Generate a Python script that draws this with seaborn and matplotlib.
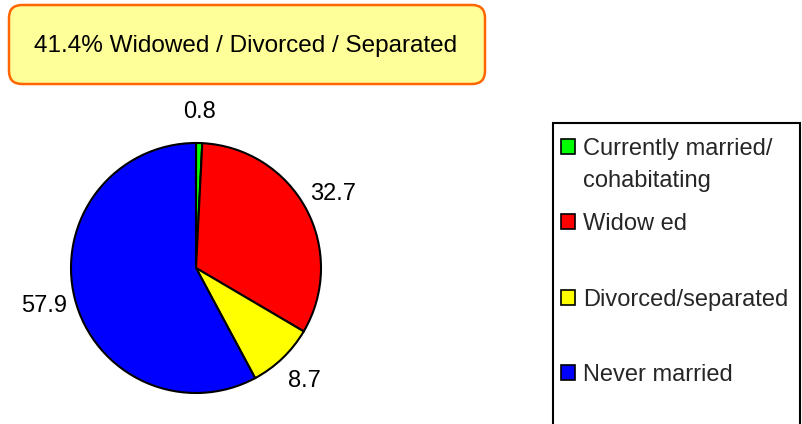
import matplotlib
matplotlib.use("Agg")
import matplotlib.pyplot as plt
import seaborn as sns
from matplotlib.patches import FancyBboxPatch, Rectangle, Patch
from matplotlib.legend_handler import HandlerPatch

# data
categories = ["Currently married/\ncohabitating", "Widow ed", "Divorced/separated", "Never married"]
values = [0.8, 32.7, 8.7, 57.9]
colors = ["#00FF00", "#FF0000", "#FFFF00", "#0000FF"]
title = "41.4% Widowed / Divorced / Separated"

sns.set_style("white")
plt.rcParams["font.family"] = ["Liberation Sans", "DejaVu Sans"]

W, H = 803, 424
fig = plt.figure(figsize=(W / 100, H / 100), dpi=100)

# pie: centre ~ (196, 268) px, radius ~125 px
cx, cy, r = 196, 268, 125
ax = fig.add_axes([(cx - r) / W, (H - cy - r) / H, 2 * r / W, 2 * r / H])
wedges, texts = ax.pie(values, labels=[f"{v:.1f}" for v in values], colors=colors,
                       startangle=90, counterclock=False, labeldistance=1.25,
                       wedgeprops=dict(edgecolor="black", linewidth=1.5),
                       textprops=dict(fontsize=17, color="black"))
for t in texts:
    t.set_ha("center")
    t.set_va("center")
ax.set_xlim(-1, 1)
ax.set_ylim(-1, 1)
ax.set_aspect("equal")
ax.axis("off")

# title box
box = FancyBboxPatch((0.09, 3.40), 4.76, 0.79,
                     boxstyle="round,pad=0,rounding_size=0.13",
                     transform=fig.dpi_scale_trans, facecolor="#FFFF99",
                     edgecolor="#FF6600", linewidth=1.8)
fig.patches.append(box)
fig.text(246 / W, 1 - 46 / H, title, ha="center", va="center",
         fontsize=17.5, color="black")

# legend frame (runs off the bottom)
frame = Rectangle((5.53, -0.2), 2.47, 4.24 - 1.23 + 0.2,
                  transform=fig.dpi_scale_trans, facecolor="white",
                  edgecolor="black", linewidth=1.5)
fig.patches.append(frame)


class ShiftedPatch(HandlerPatch):
    # move the square up so it sits next to the first line of a two-line label
    def __init__(self, shift=0, **kw):
        super().__init__(**kw)
        self.shift = shift

    def create_artists(self, legend, orig_handle, xdescent, ydescent, width,
                       height, fontsize, trans):
        return super().create_artists(legend, orig_handle, xdescent,
                                      ydescent - self.shift, width, height,
                                      fontsize, trans)


entry_y = [165, 224, 300, 375]
for label, c, y in zip(categories, colors, entry_y):
    h = Patch(facecolor=c, edgecolor="black", linewidth=1.2)
    shift = 13.5 if "\n" in label else 0
    leg = fig.legend([h], [label], loc="center left",
                     bbox_to_anchor=(561 / W, 1 - y / H),
                     frameon=False, fontsize=17, handlelength=0.6, handleheight=0.6,
                     handletextpad=0.35, borderaxespad=0, borderpad=0,
                     handler_map={Patch: ShiftedPatch(shift=shift)})
    for t in leg.get_texts():
        t.set_linespacing(1.6)

fig.savefig("out.png", dpi=100)
